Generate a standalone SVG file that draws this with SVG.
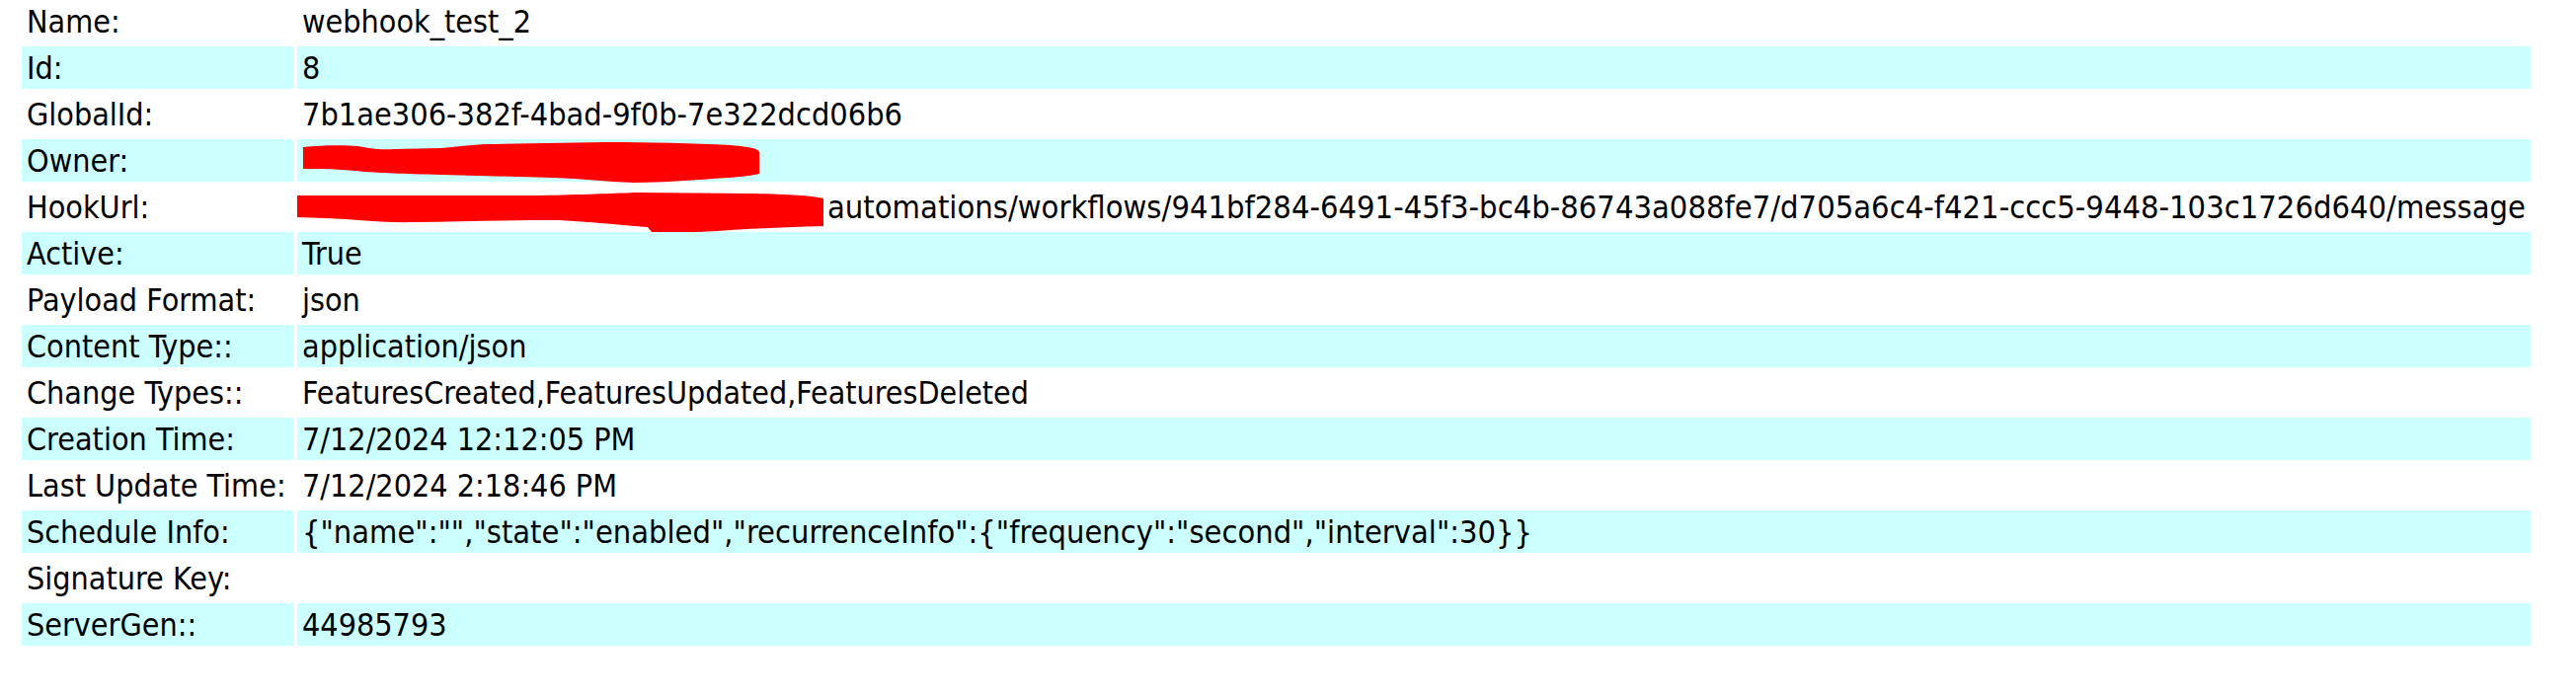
<svg xmlns="http://www.w3.org/2000/svg" width="2609" height="708" viewBox="0 0 2609 708">
<style>
.t{font-family:"DejaVu Sans Condensed","DejaVu Sans",sans-serif;font-stretch:condensed;font-size:32px;fill:#000}
.b{fill:#CCFFFF}
.r{fill:#FF0000}
</style>
<rect x="0" y="0" width="2609" height="708" fill="#FFFFFF"/>
<g id="row-name"><text class="t" x="27" y="33">Name:</text><text class="t" x="306" y="33">webhook_test_2</text></g>
<g id="row-id"><rect class="b" x="22" y="47" width="275" height="43"/><rect class="b" x="301" y="47" width="2262" height="43"/><text class="t" x="27" y="80">Id:</text><text class="t" x="306" y="80">8</text></g>
<g id="row-globalid"><text class="t" x="27" y="127">GlobalId:</text><text class="t" x="306" y="127" textLength="608" lengthAdjust="spacingAndGlyphs">7b1ae306-382f-4bad-9f0b-7e322dcd06b6</text></g>
<g id="row-owner"><rect class="b" x="22" y="141" width="275" height="43"/><rect class="b" x="301" y="141" width="2262" height="43"/><text class="t" x="27" y="174">Owner:</text>
<path class="r" d="M307,149 C325,147 350,147 362,148 C374,150 382,152 400,151 L447,150 C470,148 482,146 500,146 L613,144 C660,144 700,145 740,147 C758,149 768,150 769,154 L769,176 C760,178 752,179 738,180 C705,182 672,185 642,185 C612,184 590,181 560,180 L447,177 C405,176 384,175 370,174 C352,172 336,171 307,171 Z"/></g>
<g id="row-hookurl"><text class="t" x="27" y="221">HookUrl:</text><text class="t" x="838" y="221" textLength="1720" lengthAdjust="spacingAndGlyphs">automations/workflows/941bf284-6491-45f3-bc4b-86743a088fe7/d705a6c4-f421-ccc5-9448-103c1726d640/message</text>
<path class="r" d="M301,198 L547,198 C590,197 620,196 643,195 L760,196 C800,197 820,198 834,201 L834,229 C800,230 770,231 740,233 C715,235 690,236 660,235 L656,230 C620,227 600,225 567,223 C520,223 470,224 420,225 C390,226 360,222 330,221 L301,220 Z"/></g>
<g id="row-active"><rect class="b" x="22" y="235" width="275" height="43"/><rect class="b" x="301" y="235" width="2262" height="43"/><text class="t" x="27" y="268">Active:</text><text class="t" x="306" y="268">True</text></g>
<g id="row-payload"><text class="t" x="27" y="315">Payload Format:</text><text class="t" x="306" y="315">json</text></g>
<g id="row-contenttype"><rect class="b" x="22" y="329" width="275" height="43"/><rect class="b" x="301" y="329" width="2262" height="43"/><text class="t" x="27" y="362">Content Type::</text><text class="t" x="306" y="362">application/json</text></g>
<g id="row-changetypes"><text class="t" x="27" y="409">Change Types::</text><text class="t" x="306" y="409" textLength="736" lengthAdjust="spacingAndGlyphs">FeaturesCreated,FeaturesUpdated,FeaturesDeleted</text></g>
<g id="row-creation"><rect class="b" x="22" y="423" width="275" height="43"/><rect class="b" x="301" y="423" width="2262" height="43"/><text class="t" x="27" y="456">Creation Time:</text><text class="t" x="306" y="456">7/12/2024 12:12:05 PM</text></g>
<g id="row-lastupdate"><text class="t" x="27" y="503">Last Update Time:</text><text class="t" x="306" y="503">7/12/2024 2:18:46 PM</text></g>
<g id="row-schedule"><rect class="b" x="22" y="517" width="275" height="43"/><rect class="b" x="301" y="517" width="2262" height="43"/><text class="t" x="27" y="550">Schedule Info:</text><text class="t" x="306" y="550" textLength="1246" lengthAdjust="spacingAndGlyphs">{"name":"","state":"enabled","recurrenceInfo":{"frequency":"second","interval":30}}</text></g>
<g id="row-signature"><text class="t" x="27" y="597">Signature Key:</text></g>
<g id="row-servergen"><rect class="b" x="22" y="611" width="275" height="43"/><rect class="b" x="301" y="611" width="2262" height="43"/><text class="t" x="27" y="644">ServerGen::</text><text class="t" x="306" y="644">44985793</text></g>
<g id="connectors"></g>
</svg>
